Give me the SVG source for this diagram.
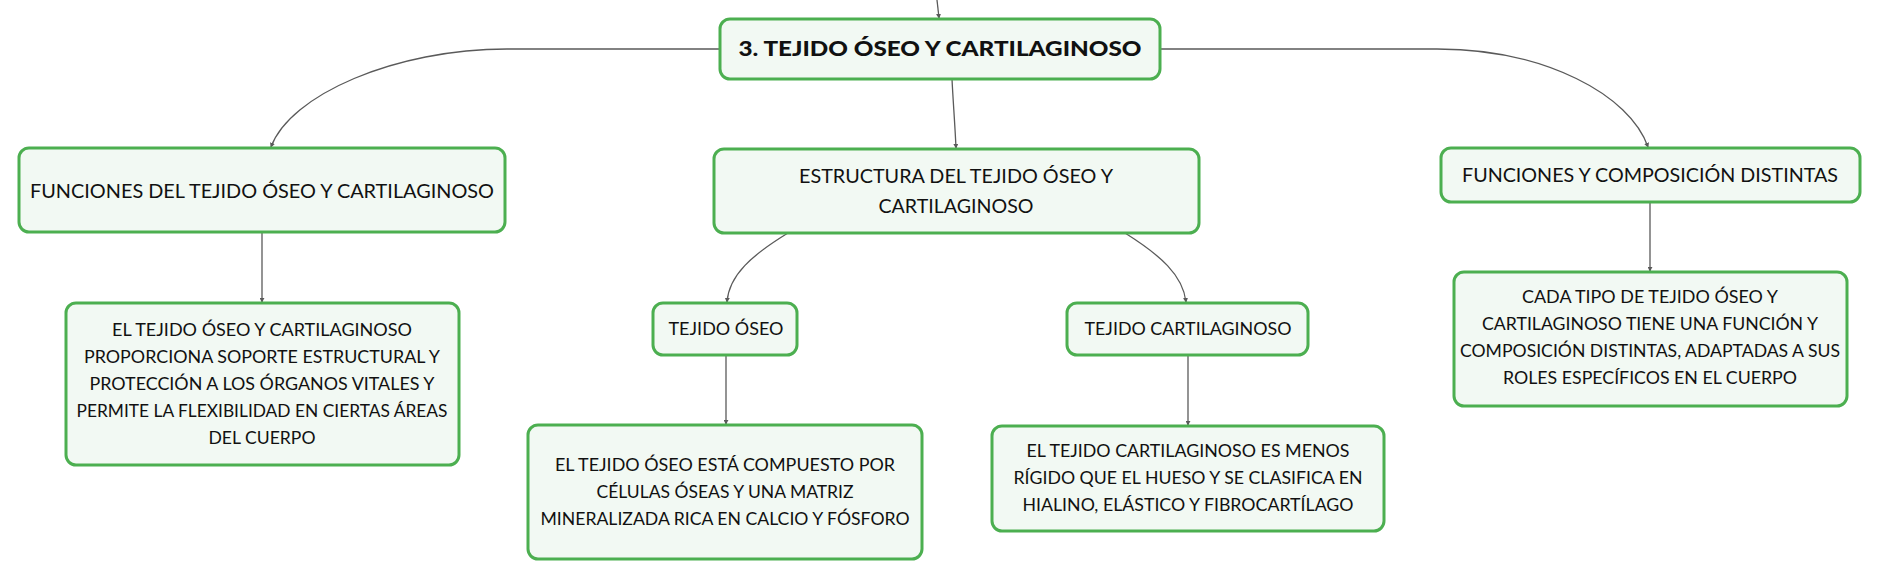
<svg xmlns="http://www.w3.org/2000/svg" width="1880" height="580" viewBox="0 0 1880 580">
<style>
.box{fill:#f2f9f3;stroke:#4caf50;stroke-width:3}
.t{font-family:Lato,"Noto Sans","Liberation Sans",sans-serif;fill:#111;text-anchor:middle}
.d{font-size:17.5px}
.h{font-size:19px}
.r{font-size:21.5px;font-weight:900}
.c{fill:none;stroke:#5a5a5a;stroke-width:1.3;marker-end:url(#ah)}
</style>
<defs>
<marker id="ah" viewBox="0 0 6 6" refX="5" refY="3" markerWidth="5" markerHeight="5" markerUnits="userSpaceOnUse" orient="auto">
<path d="M0,0 L6,3 L0,6 z" fill="#5a5a5a"/>
</marker>
</defs>
<g id="connectors">
<path class="c" d="M937,0 L939,18"/>
<path class="c" d="M720,49 L507,49 C395,49 290,95 271,147"/>
<path class="c" d="M1160,49 L1437,49 C1545,49 1630,95 1648,147"/>
<path class="c" d="M952,79 C953,100 955,125 956,148"/>
<path class="c" d="M262,232 L262,302"/>
<path class="c" d="M788,233 C752,255 729,275 727,302"/>
<path class="c" d="M1125,233 C1160,255 1183,275 1186,302"/>
<path class="c" d="M726,355 L726,424"/>
<path class="c" d="M1188,355 L1188,425"/>
<path class="c" d="M1650,202 L1650,271"/>
</g>
<g id="root">
<rect class="box" x="720" y="19" width="440" height="60" rx="10"/>
<text class="t r" x="940" y="56" textLength="403" lengthAdjust="spacingAndGlyphs">3. TEJIDO ÓSEO Y CARTILAGINOSO</text>
</g>
<g id="funciones">
<rect class="box" x="19" y="148" width="486" height="84" rx="10"/>
<text class="t h" x="262" y="198" textLength="464" lengthAdjust="spacingAndGlyphs">FUNCIONES DEL TEJIDO ÓSEO Y CARTILAGINOSO</text>
</g>
<g id="funciones-desc">
<rect class="box" x="66" y="303" width="393" height="162" rx="10"/>
<text class="t d" x="262" y="336" textLength="300" lengthAdjust="spacingAndGlyphs">EL TEJIDO ÓSEO Y CARTILAGINOSO</text>
<text class="t d" x="262" y="363" textLength="356" lengthAdjust="spacingAndGlyphs">PROPORCIONA SOPORTE ESTRUCTURAL Y</text>
<text class="t d" x="262" y="390" textLength="345" lengthAdjust="spacingAndGlyphs">PROTECCIÓN A LOS ÓRGANOS VITALES Y</text>
<text class="t d" x="262" y="417" textLength="371" lengthAdjust="spacingAndGlyphs">PERMITE LA FLEXIBILIDAD EN CIERTAS ÁREAS</text>
<text class="t d" x="262" y="444" textLength="107" lengthAdjust="spacingAndGlyphs">DEL CUERPO</text>
</g>
<g id="estructura">
<rect class="box" x="714" y="149" width="485" height="84" rx="10"/>
<text class="t h" x="956" y="183" textLength="314" lengthAdjust="spacingAndGlyphs">ESTRUCTURA DEL TEJIDO ÓSEO Y</text>
<text class="t h" x="956" y="213" textLength="155" lengthAdjust="spacingAndGlyphs">CARTILAGINOSO</text>
</g>
<g id="tejido-oseo">
<rect class="box" x="653" y="303" width="144" height="52" rx="10"/>
<text class="t d" x="726" y="335" textLength="115" lengthAdjust="spacingAndGlyphs">TEJIDO ÓSEO</text>
</g>
<g id="oseo-desc">
<rect class="box" x="528" y="425" width="394" height="134" rx="10"/>
<text class="t d" x="725" y="471" textLength="340" lengthAdjust="spacingAndGlyphs">EL TEJIDO ÓSEO ESTÁ COMPUESTO POR</text>
<text class="t d" x="725" y="498" textLength="257" lengthAdjust="spacingAndGlyphs">CÉLULAS ÓSEAS Y UNA MATRIZ</text>
<text class="t d" x="725" y="525" textLength="369" lengthAdjust="spacingAndGlyphs">MINERALIZADA RICA EN CALCIO Y FÓSFORO</text>
</g>
<g id="tejido-cartilaginoso">
<rect class="box" x="1067" y="303" width="241" height="52" rx="10"/>
<text class="t d" x="1188" y="335" textLength="207" lengthAdjust="spacingAndGlyphs">TEJIDO CARTILAGINOSO</text>
</g>
<g id="cartilaginoso-desc">
<rect class="box" x="992" y="426" width="392" height="105" rx="10"/>
<text class="t d" x="1188" y="457" textLength="323" lengthAdjust="spacingAndGlyphs">EL TEJIDO CARTILAGINOSO ES MENOS</text>
<text class="t d" x="1188" y="484" textLength="349" lengthAdjust="spacingAndGlyphs">RÍGIDO QUE EL HUESO Y SE CLASIFICA EN</text>
<text class="t d" x="1188" y="511" textLength="331" lengthAdjust="spacingAndGlyphs">HIALINO, ELÁSTICO Y FIBROCARTÍLAGO</text>
</g>
<g id="funciones-composicion">
<rect class="box" x="1441" y="148" width="419" height="54" rx="10"/>
<text class="t h" x="1650" y="182" textLength="376" lengthAdjust="spacingAndGlyphs">FUNCIONES Y COMPOSICIÓN DISTINTAS</text>
</g>
<g id="composicion-desc">
<rect class="box" x="1454" y="272" width="393" height="134" rx="10"/>
<text class="t d" x="1650" y="303" textLength="256" lengthAdjust="spacingAndGlyphs">CADA TIPO DE TEJIDO ÓSEO Y</text>
<text class="t d" x="1650" y="330" textLength="336" lengthAdjust="spacingAndGlyphs">CARTILAGINOSO TIENE UNA FUNCIÓN Y</text>
<text class="t d" x="1650" y="357" textLength="380" lengthAdjust="spacingAndGlyphs">COMPOSICIÓN DISTINTAS, ADAPTADAS A SUS</text>
<text class="t d" x="1650" y="384" textLength="294" lengthAdjust="spacingAndGlyphs">ROLES ESPECÍFICOS EN EL CUERPO</text>
</g>
</svg>
